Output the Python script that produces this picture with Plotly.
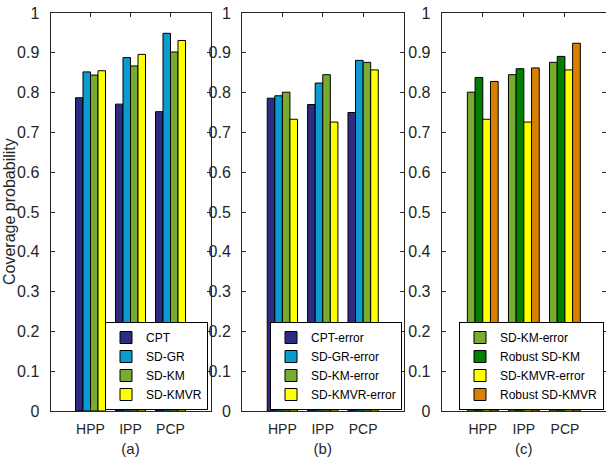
import plotly.graph_objects as go

# ---------------- data ----------------
categories = ["HPP", "IPP", "PCP"]

# panel (a)
a_names = ["CPT", "SD-GR", "SD-KM", "SD-KMVR"]
a_cpt = [0.787, 0.771, 0.752]
a_sdgr = [0.852, 0.888, 0.949]
a_sdkm = [0.844, 0.867, 0.902]
a_sdkmvr = [0.855, 0.896, 0.931]

# panel (b)
b_names = ["CPT-error", "SD-GR-error", "SD-KM-error", "SD-KMVR-error"]
b_cpt_err = [0.786, 0.770, 0.750]
b_sdgr_err = [0.792, 0.824, 0.881]
b_sdkm_err = [0.801, 0.845, 0.876]
b_sdkmvr_err = [0.733, 0.726, 0.857]

# panel (c)
c_names = ["SD-KM-error", "Robust SD-KM", "SD-KMVR-error", "Robust SD-KMVR"]
c_sdkm_err = [0.801, 0.845, 0.876]
c_robust_sdkm = [0.838, 0.860, 0.891]
c_sdkmvr_err = [0.733, 0.726, 0.857]
c_robust_sdkmvr = [0.828, 0.862, 0.924]

y_tick_vals = [0, 0.1, 0.2, 0.3, 0.4, 0.5, 0.6, 0.7, 0.8, 0.9, 1]
y_tick_text = ["0", "0.1", "0.2", "0.3", "0.4", "0.5", "0.6", "0.7", "0.8", "0.9", "1"]
panel_labels = ["(a)", "(b)", "(c)"]
y_title = "Coverage probability"

# ---------------- styling ----------------
NAVY = "#2E2C82"
CYAN = "#0A9BD0"
LGREEN = "#77AC30"
YELLOW = "#FFFF00"
DGREEN = "#007F00"
ORANGE = "#D98000"
AXC = "#262626"
FONT = "Liberation Sans, Arial, sans-serif"

panels = [
    (a_names, [a_cpt, a_sdgr, a_sdkm, a_sdkmvr], [NAVY, CYAN, LGREEN, YELLOW]),
    (b_names, [b_cpt_err, b_sdgr_err, b_sdkm_err, b_sdkmvr_err], [NAVY, CYAN, LGREEN, YELLOW]),
    (c_names, [c_sdkm_err, c_robust_sdkm, c_sdkmvr_err, c_robust_sdkmvr], [LGREEN, DGREEN, YELLOW, ORANGE]),
]

W, H = 606, 462


def px_x(p):
    return p / W


def px_y(p):
    return 1 - p / H


x_domains = [[px_x(50.5), px_x(210.5)], [px_x(242), px_x(403.5)], [px_x(441.7), 1.0]]
y_domain = [px_y(411), px_y(13)]
legend_right_px = [208, 402, 604]

fig = go.Figure()
for i, (names, series, colors) in enumerate(panels):
    ax = "" if i == 0 else str(i + 1)
    for name, vals, col in zip(names, series, colors):
        fig.add_trace(go.Bar(
            x=categories, y=vals, name=name,
            marker=dict(color=col, line=dict(color="#000000", width=1)),
            xaxis="x" + ax, yaxis="y" + ax,
            legend="legend" + ax,
            offsetgroup=name + ax,
        ))

layout = dict(
    width=W, height=H,
    margin=dict(l=0, r=0, t=0, b=0),
    paper_bgcolor="white", plot_bgcolor="white",
    barmode="group", bargap=0.25, bargroupgap=0,
    font=dict(family=FONT, color=AXC, size=14),
)

for i in range(3):
    ax = "" if i == 0 else str(i + 1)
    layout["xaxis" + ax] = dict(
        domain=x_domains[i], anchor="y" + ax,
        type="category", range=[-1, 3],
        showline=True, linecolor=AXC, linewidth=1, mirror="ticks",
        ticks="inside", ticklen=4, tickcolor=AXC,
        tickfont=dict(size=14, color=AXC, family=FONT),
        ticklabelstandoff=5,
        showgrid=False, zeroline=False,
        title=dict(text=panel_labels[i], font=dict(size=15, color=AXC, family=FONT), standoff=7),
        automargin=False,
    )
    layout["yaxis" + ax] = dict(
        domain=y_domain, anchor="x" + ax,
        range=[0, 1],
        tickvals=y_tick_vals, ticktext=y_tick_text,
        showline=True, linecolor=AXC, linewidth=1, mirror="ticks",
        ticks="inside", ticklen=4, tickcolor=AXC,
        tickfont=dict(size=16, color=AXC, family=FONT),
        ticklabelstandoff=7,
        ticklabeloverflow="allow",
        showgrid=False, zeroline=False,
        automargin=False,
    )
    layout["legend" + ax] = dict(
        x=px_x(legend_right_px[i]), xanchor="right",
        y=px_y(410), yanchor="bottom",
        bgcolor="white", bordercolor="#000000", borderwidth=1,
        font=dict(size=12, color="#000000", family=FONT),
        itemwidth=30, tracegroupgap=0,
    )

layout["annotations"] = [dict(
    text=y_title, textangle=-90,
    xref="paper", yref="paper",
    x=px_x(9), y=px_y(212), xanchor="center", yanchor="middle",
    showarrow=False, font=dict(size=16, color=AXC, family=FONT),
)]

fig.update_layout(**layout)
fig.write_html("out.html", config={"displayModeBar": False},
               post_script="document.body.style.margin='0px';")
